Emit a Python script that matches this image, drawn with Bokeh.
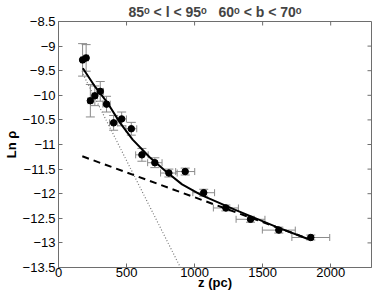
import math
from bokeh.plotting import figure
from bokeh.models import ColumnDataSource, Whisker, TeeHead, Range1d, FixedTicker
from bokeh.embed import file_html
from bokeh.resources import INLINE

# data
z = [177, 203, 234, 267, 307, 353, 405, 464, 535, 613, 708, 811, 931, 1067, 1230, 1411, 1619, 1854]
ln_rho = [-9.28, -9.24, -10.11, -10.01, -9.92, -10.18, -10.56, -10.48, -10.68, -11.21, -11.37,
          -11.58, -11.55, -11.98, -12.29, -12.52, -12.74, -12.89]
z_err = [13, 15, 18, 20, 23, 27, 30, 35, 40, 46, 53, 61, 70, 80, 92, 106, 121, 139]
ln_err = [0.33, 0.27, 0.33, 0.2, 0.2, 0.16, 0.15, 0.14, 0.13, 0.13, 0.1, 0.08, 0.07, 0.07,
          0.06, 0.06, 0.06, 0.05]

fit_z = [179, 270, 362, 450, 545, 670, 790, 908, 1050, 1299, 1596, 1833]
fit_ln = [-9.45, -9.83, -10.16, -10.55, -10.90, -11.26, -11.55, -11.81, -12.03, -12.33, -12.67, -12.92]

thick_z = [175, 1850]
thick_ln = [-11.24, -12.93]

thin_z = [180, 896]
thin_ln = [-9.57, -13.5]

x_ticks = [0, 500, 1000, 1500, 2000]
y_ticks = [-13.5, -13, -12.5, -12, -11.5, -11, -10.5, -10, -9.5, -9, -8.5]
X_MAX = 2300
Y_MIN, Y_MAX = -13.5, -8.5

FONT = "Liberation Sans"
GRAY = "#8a8a8a"
AXC = "#6e6e6e"

p = figure(width=374, height=293, output_backend="svg", toolbar_location=None,
           x_range=Range1d(0, X_MAX), y_range=Range1d(Y_MIN, Y_MAX),
           min_border_left=48, min_border_right=3, min_border_top=20, min_border_bottom=26)
p.outline_line_color = AXC
p.grid.visible = False
p.background_fill_color = "white"

NB = "\u00a0"
p.title.text = "85\u1d52 < l < 95\u1d52" + NB * 3 + "60\u1d52 < b < 70\u1d52"
p.title.align = "center"
p.title.text_font = FONT
p.title.text_font_size = "14px"
p.title.text_font_style = "bold"
p.title.standoff = 3

src = ColumnDataSource(dict(
    z=z, ln=ln_rho,
    zl=[a - b for a, b in zip(z, z_err)], zu=[a + b for a, b in zip(z, z_err)],
    yl=[a - b for a, b in zip(ln_rho, ln_err)], yu=[a + b for a, b in zip(ln_rho, ln_err)],
))

wy = Whisker(source=src, base="z", lower="yl", upper="yu", dimension="height",
             line_color=GRAY, line_width=1,
             lower_head=TeeHead(size=9, line_color=GRAY, line_width=1),
             upper_head=TeeHead(size=9, line_color=GRAY, line_width=1))
wx = Whisker(source=src, base="ln", lower="zl", upper="zu", dimension="width",
             line_color=GRAY, line_width=1,
             lower_head=TeeHead(size=7, line_color=GRAY, line_width=1),
             upper_head=TeeHead(size=7, line_color=GRAY, line_width=1))
p.add_layout(wy)
p.add_layout(wx)

p.line(thin_z, thin_ln, line_color="#777777", line_width=1.2, line_dash="1 2")
p.line(thick_z, thick_ln, line_color="black", line_width=2, line_dash="7 5")
p.line(fit_z, fit_ln, line_color="black", line_width=2)
p.scatter("z", "ln", source=src, size=6.5, color="black")

# inward ticks on the top and right edges of the box
p.ray(x=x_ticks, y=[Y_MAX] * len(x_ticks), length=4, length_units="screen",
      angle=-math.pi / 2, line_color=AXC, line_width=1)
p.ray(x=[X_MAX] * len(y_ticks), y=y_ticks, length=4, length_units="screen",
      angle=math.pi, line_color=AXC, line_width=1)

for ax in (p.xaxis[0], p.yaxis[0]):
    ax.major_tick_in = 4
    ax.major_tick_out = 0
    ax.minor_tick_in = 0
    ax.minor_tick_out = 0
    ax.axis_line_color = AXC
    ax.major_tick_line_color = AXC
    ax.major_label_text_font = FONT
    ax.major_label_text_font_size = "13px"
    ax.major_label_text_color = "black"
    ax.axis_label_text_font = FONT
    ax.axis_label_text_font_size = "13px"
    ax.axis_label_text_font_style = "bold"
    ax.axis_label_text_color = "black"

p.xaxis[0].ticker = FixedTicker(ticks=x_ticks)
p.yaxis[0].ticker = FixedTicker(ticks=y_ticks)
p.xaxis[0].major_label_overrides = {t: str(t) for t in x_ticks}
p.yaxis[0].major_label_overrides = {t: ("\u2212" + ("%g" % -t)) for t in y_ticks}
p.xaxis[0].axis_label = "z (pc)"
p.yaxis[0].axis_label = "Ln \u03c1"
p.xaxis[0].major_label_standoff = 0
p.xaxis[0].axis_label_standoff = -5
p.yaxis[0].major_label_standoff = 3
p.yaxis[0].axis_label_standoff = 1

open("out.html", "w").write(file_html(p, INLINE))
